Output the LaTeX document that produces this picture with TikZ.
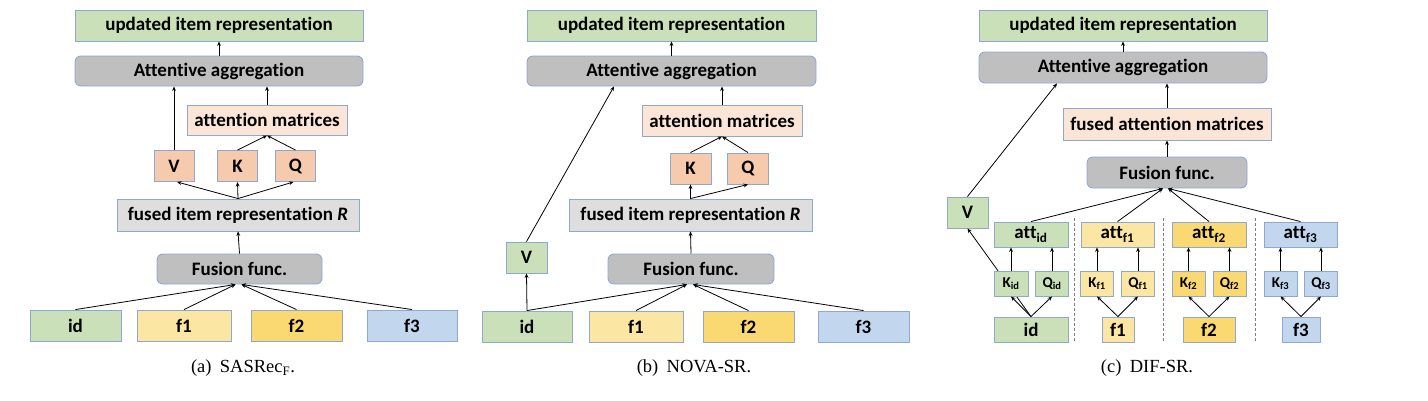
\documentclass[tikz,border=0pt]{standalone}
\usepackage{fontspec}
\setmainfont{Liberation Serif}
\newfontfamily\boxfont[RawFeature={-liga}]{Carlito}
\usetikzlibrary{arrows.meta}
\definecolor{cgreen}{HTML}{C9E0B8}
\definecolor{cyel}{HTML}{FCE6A4}
\definecolor{cyel2}{HTML}{FAD872}
\definecolor{cblue}{HTML}{C2D7EE}
\definecolor{cpeach}{HTML}{FBE5D6}
\definecolor{corange}{HTML}{F6CBAD}
\definecolor{cgrey}{HTML}{BFBFBF}
\definecolor{clgrey}{HTML}{DEDEDE}
\definecolor{bord}{HTML}{8FA8D2}
\tikzset{
  box/.style={draw=bord, line width=0.9pt, inner sep=0pt, text=black,
    font=\boxfont\bfseries\fontsize{19}{20}\selectfont},
  rbox/.style={box, rounded corners=6pt},
  smallbox/.style={box, font=\boxfont\bfseries\fontsize{15}{16}\selectfont},
  arr/.style={-{Stealth[length=4.5pt,width=3.8pt]}, line width=0.8pt, black},
  sepline/.style={densely dashed, line width=0.6pt, gray},
  capt/.style={font=\fontsize{18.5}{20}\selectfont, inner sep=0pt}
}
\begin{document}
\begin{tikzpicture}[x=1pt,y=-1pt]
\useasboundingbox (0,0) rectangle (1428,400);
% ================= panel (a)
\node[box, fill=cgreen, minimum width=288, minimum height=31] (upA) at (219,25.5) {updated item representation};
\node[rbox, fill=cgrey, minimum width=288, minimum height=30] (attA) at (219,71) {Attentive aggregation};
\node[box, fill=cpeach, minimum width=160, minimum height=30] (matA) at (267,120) {attention matrices};
\node[box, fill=corange, minimum width=40, minimum height=31] (VA) at (174,166) {V};
\node[box, fill=corange, minimum width=40, minimum height=31] (KA) at (237.5,166) {K};
\node[box, fill=corange, minimum width=40, minimum height=31] (QA) at (295.5,166) {Q};
\node[box, fill=clgrey, minimum width=242, minimum height=32] (fusedA) at (238,215) {fused item representation \textit{R}};
\node[rbox, fill=cgrey, minimum width=165, minimum height=30] (fusA) at (239.5,269) {Fusion func.};
\node[box, fill=cgreen, minimum width=91, minimum height=31] (idA) at (75.5,325.5) {id};
\node[box, fill=cyel, minimum width=94, minimum height=31] (f1A) at (184,325.5) {f1};
\node[box, fill=cyel2, minimum width=91, minimum height=31] (f2A) at (296.5,325.5) {f2};
\node[box, fill=cblue, minimum width=90, minimum height=31] (f3A) at (412,325.5) {f3};
\draw[arr] (attA.north) -- (upA.south);
\draw[arr] (VA.north) -- (VA.north |- attA.south);
\draw[arr] (matA.north) -- (matA.north |- attA.south);
\draw[arr] (KA.north) -- (matA.south);
\draw[arr] (QA.north) -- (matA.south);
\draw[arr] (fusedA.north) -- ([xshift=3pt]VA.south);
\draw[arr] (fusedA.north) -- (KA.south);
\draw[arr] (fusedA.north) -- ([xshift=-2pt]QA.south);
\draw[arr] (fusA.north) -- (fusedA.south);
\draw[arr] (idA.north) -- ([xshift=-4pt]fusA.south);
\draw[arr] (f1A.north) -- ([xshift=-4pt]fusA.south);
\draw[arr] (f2A.north) -- ([xshift=2pt]fusA.south);
\draw[arr] (f3A.north) -- ([xshift=2pt]fusA.south);
\node[capt] (capA) at (243,368) {(a)\hspace{0.45em}SASRec\textsubscript{F}.};
% ================= panel (b)
\node[box, fill=cgreen, minimum width=289, minimum height=31] (upB) at (671.5,25.5) {updated item representation};
\node[rbox, fill=cgrey, minimum width=289, minimum height=30] (attB) at (671.5,71) {Attentive aggregation};
\node[box, fill=cpeach, minimum width=160, minimum height=31] (matB) at (722,120.5) {attention matrices};
\node[box, fill=corange, minimum width=41, minimum height=31] (KB) at (690.5,168.5) {K};
\node[box, fill=corange, minimum width=41, minimum height=31] (QB) at (748,168.5) {Q};
\node[box, fill=clgrey, minimum width=243, minimum height=32] (fusedB) at (690.5,215) {fused item representation \textit{R}};
\node[box, fill=cgreen, minimum width=41, minimum height=31] (VB) at (526.5,257.5) {V};
\node[rbox, fill=cgrey, minimum width=166, minimum height=30] (fusB) at (691,269) {Fusion func.};
\node[box, fill=cgreen, minimum width=90, minimum height=31] (idB) at (527,326.5) {id};
\node[box, fill=cyel, minimum width=94, minimum height=31] (f1B) at (636,326.5) {f1};
\node[box, fill=cyel2, minimum width=91, minimum height=31] (f2B) at (748.5,326.5) {f2};
\node[box, fill=cblue, minimum width=91, minimum height=31] (f3B) at (863.5,326.5) {f3};
\draw[arr] (attB.north) -- (upB.south);
\draw[arr] (VB.north) -- ([xshift=-57.5pt]attB.south);
\draw[arr] (matB.north) -- (matB.north |- attB.south);
\draw[arr] (KB.north) -- (matB.south);
\draw[arr] (QB.north) -- (matB.south);
\draw[arr] (fusedB.north) -- (KB.south);
\draw[arr] (fusedB.north) -- (QB.south);
\draw[arr] (fusB.north) -- (fusedB.south);
\draw[arr] (idB.north) -- (VB.south);
\draw[arr] (idB.north) -- ([xshift=-4pt]fusB.south);
\draw[arr] (f1B.north) -- ([xshift=-4pt]fusB.south);
\draw[arr] (f2B.north) -- ([xshift=2pt]fusB.south);
\draw[arr] (f3B.north) -- ([xshift=2pt]fusB.south);
\node[capt] (capB) at (694,368) {(b)\hspace{0.45em}NOVA-SR.};
% ================= panel (c)
\node[box, fill=cgreen, minimum width=288, minimum height=31] (upC) at (1123,25.5) {updated item representation};
\node[rbox, fill=cgrey, minimum width=288, minimum height=31] (attC) at (1123,67.5) {Attentive aggregation};
\node[box, fill=cpeach, minimum width=208, minimum height=32] (fmatC) at (1167,124) {fused attention matrices};
\node[rbox, fill=cgrey, minimum width=160, minimum height=31] (fusC) at (1167,172.5) {Fusion func.};
\node[box, fill=cgreen, minimum width=41, minimum height=31] (VC) at (967.5,212.5) {V};
\node[box, fill=cgreen, minimum width=74, minimum height=25] (aid) at (1031,234.5) {att\textsubscript{id}};
\node[box, fill=cyel, minimum width=73, minimum height=25] (af1) at (1117.5,234.5) {att\textsubscript{f1}};
\node[box, fill=cyel2, minimum width=74, minimum height=25] (af2) at (1209,234.5) {att\textsubscript{f2}};
\node[box, fill=cblue, minimum width=73, minimum height=25] (af3) at (1300.5,234.5) {att\textsubscript{f3}};
\node[box, fill=cgreen, minimum width=74, minimum height=25] (cid) at (1031,329.5) {id};
\node[box, fill=cyel, minimum width=32, minimum height=25] (cf1) at (1118,329.5) {f1};
\node[box, fill=cyel2, minimum width=52, minimum height=25] (cf2) at (1209,329.5) {f2};
\node[box, fill=cblue, minimum width=38, minimum height=25] (cf3) at (1301,329.5) {f3};
\draw[arr] (cid.north) -- (VC.south);
\node[smallbox, fill=cgreen, minimum width=34, minimum height=25] (kid) at (1011,283.5) {K\textsubscript{id}};
\node[smallbox, fill=cgreen, minimum width=33, minimum height=25] (qid) at (1052,283.5) {Q\textsubscript{id}};
\node[smallbox, fill=cyel, minimum width=33, minimum height=25] (kf1) at (1097,283.5) {K\textsubscript{f1}};
\node[smallbox, fill=cyel, minimum width=33, minimum height=25] (qf1) at (1138,283.5) {Q\textsubscript{f1}};
\node[smallbox, fill=cyel2, minimum width=33, minimum height=25] (kf2) at (1188.5,283.5) {K\textsubscript{f2}};
\node[smallbox, fill=cyel2, minimum width=33, minimum height=25] (qf2) at (1229.5,283.5) {Q\textsubscript{f2}};
\node[smallbox, fill=cblue, minimum width=33, minimum height=25] (kf3) at (1280.5,283.5) {K\textsubscript{f3}};
\node[smallbox, fill=cblue, minimum width=33, minimum height=25] (qf3) at (1321,283.5) {Q\textsubscript{f3}};
\draw[arr] (attC.north) -- (upC.south);
\draw[arr] (VC.north) -- ([xshift=-66pt]attC.south);
\draw[arr] (fmatC.north) -- (fmatC.north |- attC.south);
\draw[arr] (fusC.north) -- (fmatC.south);
\draw[arr] (aid.north) -- ([xshift=-4pt]fusC.south);
\draw[arr] (af1.north) -- ([xshift=-4pt]fusC.south);
\draw[arr] (af2.north) -- ([xshift=1pt]fusC.south);
\draw[arr] (af3.north) -- ([xshift=1pt]fusC.south);
\foreach \k/\q/\a/\b in {kid/qid/aid/cid, kf1/qf1/af1/cf1, kf2/qf2/af2/cf2, kf3/qf3/af3/cf3}{
  \draw[arr] (\k.north) -- (\k.north |- \a.south);
  \draw[arr] (\q.north) -- (\q.north |- \a.south);
  \draw[arr] (\b.north) -- (\k.south);
  \draw[arr] (\b.north) -- (\q.south);
}
\coordinate (s1t) at (1074,218); \coordinate (s1b) at (1074,342);
\coordinate (s2t) at (1163,218); \coordinate (s2b) at (1163,342);
\coordinate (s3t) at (1255,218); \coordinate (s3b) at (1255,342);
\draw[sepline] (s1t) -- (s1b);
\draw[sepline] (s2t) -- (s2b);
\draw[sepline] (s3t) -- (s3b);
\node[capt] (capC) at (1147,368) {(c)\hspace{0.45em}DIF-SR.};
\end{tikzpicture}
\end{document}
